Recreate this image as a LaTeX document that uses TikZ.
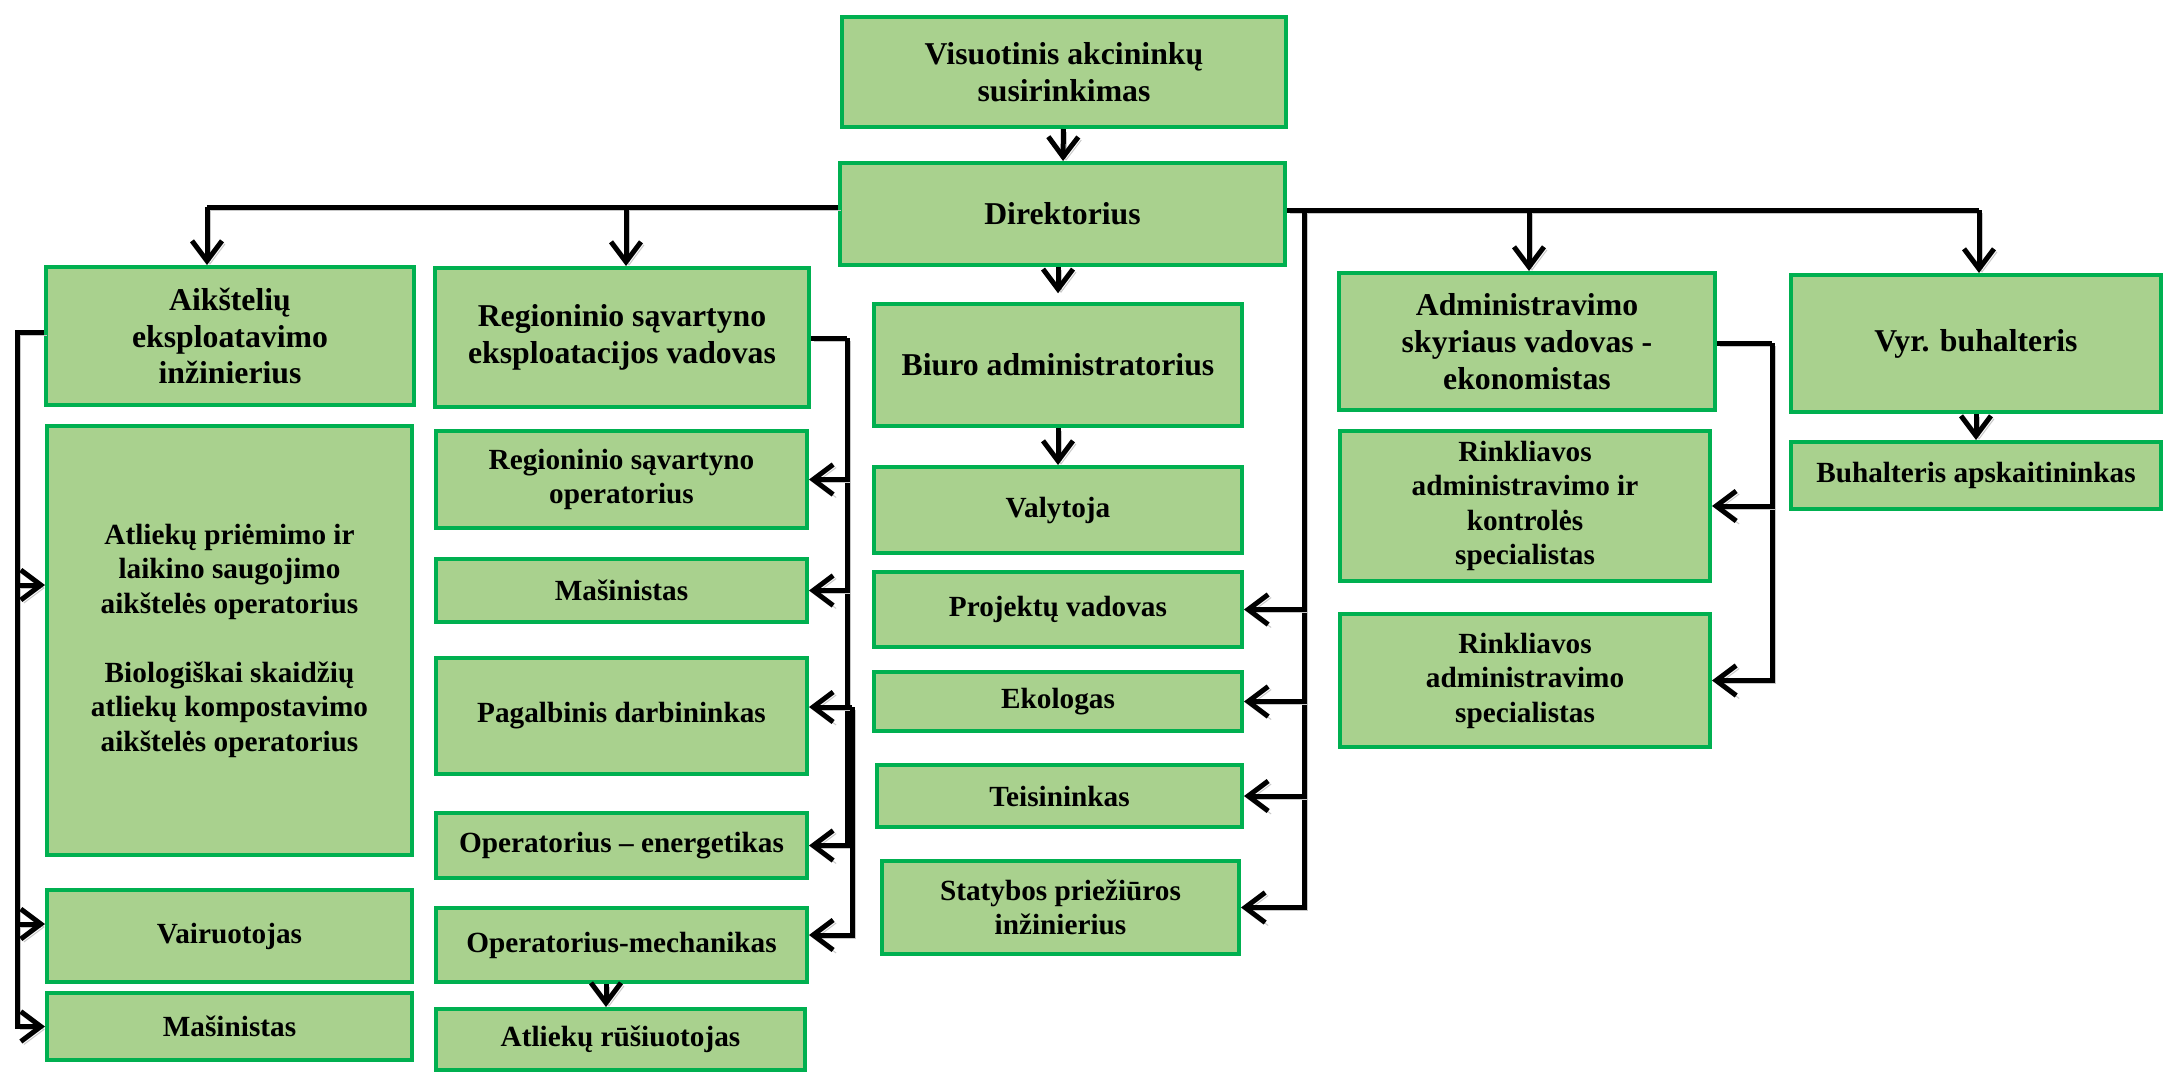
\documentclass[tikz,border=0pt]{standalone}
\usepackage{fontspec}
\setmainfont{Liberation Serif}
\usetikzlibrary{arrows.meta}
\definecolor{boxgreen}{HTML}{00B050}
\definecolor{boxfill}{HTML}{A9D18E}
\tikzset{
  box/.style={draw=boxgreen, fill=boxfill, line width=1.6pt, align=center, inner sep=2pt},
  hd/.style={font=\bfseries\fontsize{12.7}{14.7}\selectfont},
  sb/.style={font=\bfseries\fontsize{11.7}{13.8}\selectfont},
  conn/.style={line width=2pt, line join=miter,
    preaction={draw=black!22, transform canvas={shift={(1.2pt,-1.2pt)}}}},
  arr/.style={conn, -{Straight Barb[length=8pt,width=12pt]}},
}
\newcommand\bx[7]{\node[box,#7, minimum width={(#4-#2)*0.4pt}, minimum height={(#5-#3)*0.4pt}] (#1) at ({(#2+#4)/2},{(#3+#5)/2}) {#6};}
\begin{document}
\begin{tikzpicture}[x=0.4pt,y=-0.4pt]
\useasboundingbox (0,0) rectangle (2168,1074);
% header boxes
\bx{vas}{842}{17}{1286}{127}{Visuotinis akcininkų\\susirinkimas}{hd}
\bx{dir}{840}{163}{1285}{265}{Direktorius}{hd}
\bx{aik}{46}{267}{414}{405}{Aikštelių\\eksploatavimo\\inžinierius}{hd}
\bx{rsv}{435}{268}{809}{407}{Regioninio sąvartyno\\eksploatacijos vadovas}{hd}
\bx{bia}{874}{304}{1242}{426}{Biuro administratorius}{hd}
\bx{asv}{1339}{273}{1715}{410}{Administravimo\\skyriaus vadovas -\\ekonomistas}{hd}
\bx{vyr}{1791}{275}{2161}{412}{Vyr. buhalteris}{hd}
% subordinate boxes
\bx{apr}{47}{426}{412}{855}{Atliekų priėmimo ir\\laikino saugojimo\\aikštelės operatorius\\[13.8pt]Biologiškai skaidžių\\atliekų kompostavimo\\aikštelės operatorius}{sb}
\bx{vai}{47}{890}{412}{982}{Vairuotojas}{sb}
\bx{maL}{47}{993}{412}{1060}{Mašinistas}{sb}
\bx{rso}{436}{431}{807}{528}{Regioninio sąvartyno\\operatorius}{sb}
\bx{maM}{436}{559}{807}{622}{Mašinistas}{sb}
\bx{pag}{436}{658}{807}{774}{Pagalbinis darbininkas}{sb}
\bx{ene}{436}{813}{807}{878}{Operatorius – energetikas}{sb}
\bx{mec}{436}{908}{807}{982}{Operatorius-mechanikas}{sb}
\bx{rus}{436}{1009}{805}{1070}{Atliekų rūšiuotojas}{sb}
\bx{val}{874}{467}{1242}{553}{Valytoja}{sb}
\bx{pro}{874}{572}{1242}{647}{Projektų vadovas}{sb}
\bx{eko}{874}{672}{1242}{731}{Ekologas}{sb}
\bx{tei}{877}{765}{1242}{827}{Teisininkas}{sb}
\bx{sta}{882}{861}{1239}{954}{Statybos priežiūros\\inžinierius}{sb}
\bx{rk1}{1340}{431}{1710}{581}{Rinkliavos\\administravimo ir\\kontrolės\\specialistas}{sb}
\bx{rk2}{1340}{614}{1710}{747}{Rinkliavos\\administravimo\\specialistas}{sb}
\bx{bap}{1791}{442}{2161}{509}{Buhalteris apskaitininkas}{sb}
% coordinates of bus lines
\coordinate (lb) at (207,207);
\coordinate (lm) at (626,207);
\coordinate (rb) at (1304,210);
\coordinate (rc) at (1529,210);
\coordinate (rd) at (1979,210);
\coordinate (al) at (17,332);
\coordinate (al2) at (17,585);
\coordinate (al3) at (17,924);
\coordinate (rvA) at (847,338);
\coordinate (rvB) at (852,707);
\coordinate (rvC) at (852,935);
\coordinate (av) at (1772,343);
\coordinate (mx) at (606,0);
% connectors
\draw[arr] (vas) -- (dir);
\draw[arr, shorten >=3.5pt] (dir.south -| bia) -- (bia.north);
\draw[conn] (dir.west |- lb) -- (lb);
\draw[arr] (lb) -- (lb |- aik.north);
\draw[arr] (lm) -- (lm |- rsv.north);
\draw[conn] (dir.east |- rb) -- (rd);
\draw[arr] (rc) -- (rc |- asv.north);
\draw[arr] (rd) -- (rd |- vyr.north);
\draw[arr] (rb) -- (rb |- sta.east) -- (sta.east);
\draw[arr] (rb |- pro.east) -- (pro.east);
\draw[arr] (rb |- eko.east) -- (eko.east);
\draw[arr] (rb |- tei.east) -- (tei.east);
\draw[arr] (bia) -- (val);
\draw[arr] (vyr) -- (bap);
% left column
\draw[arr] (aik.west |- al) -- (al) -- (al |- maL.west) -- (maL.west);
\draw[arr] (al2) -- (apr.west |- al2);
\draw[arr] (al3) -- (vai.west |- al3);
% regioninio column
\draw[conn] (rsv.east |- rvA) -- (rvA);
\draw[arr] (rvA) -- (rvA |- ene.east) -- (ene.east);
\draw[arr] (rvA |- rso.east) -- (rso.east);
\draw[arr] (rvA |- maM.east) -- (maM.east);
\draw[arr] (rvB) -- (pag.east |- rvB);
\draw[arr] (rvB) -- (rvC) -- (mec.east |- rvC);
\draw[arr] (mec.south -| mx) -- (rus.north -| mx);
% administration column
\draw[conn] (asv.east |- av) -- (av);
\draw[arr] (av) -- (av |- rk2.east) -- (rk2.east);
\draw[arr] (av |- rk1.east) -- (rk1.east);
\end{tikzpicture}
\end{document}
